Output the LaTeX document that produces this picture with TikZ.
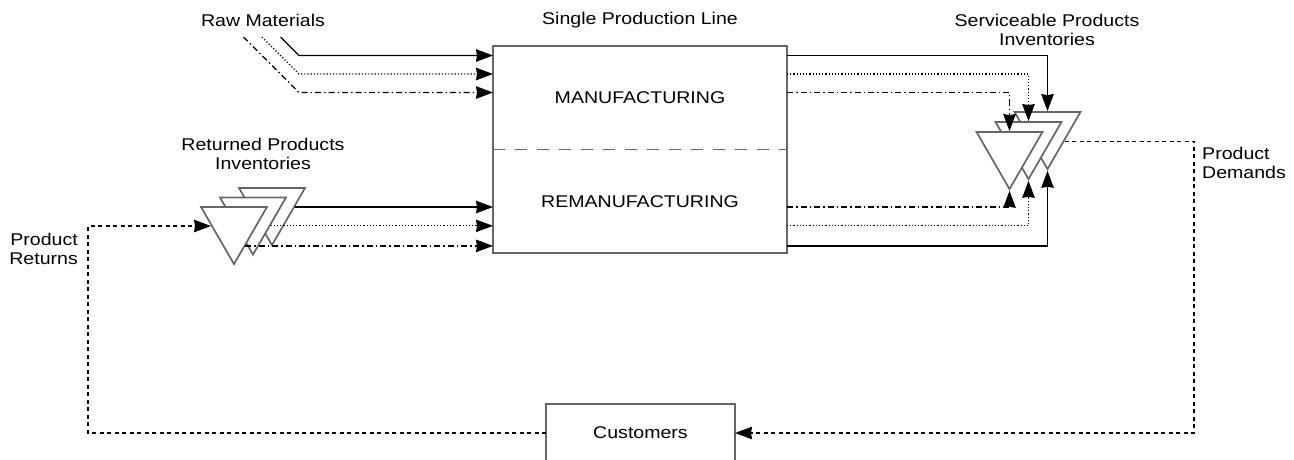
\documentclass[tikz,border=0pt]{standalone}
\usepackage{fontspec}
\setmainfont[FakeStretch=1.15]{Liberation Sans}
\usetikzlibrary{arrows.meta,shapes.geometric}
\definecolor{edgegray}{HTML}{666666}

\begin{document}
\begin{tikzpicture}[x=1pt,y=-1pt,
  lbl/.style={font=\fontsize{17}{19}\selectfont, align=center, inner sep=0pt},
  procbox/.style={draw=edgegray, line width=1.5pt, fill=white, outer sep=0pt},
  stock/.style={regular polygon, regular polygon sides=3, shape border rotate=180,
    minimum size=76.2pt, inner sep=0pt, draw=edgegray, fill=white, line width=1.7pt},
  flow/.style={line width=1.2pt, black, -{Stealth[length=17pt,width=12.5pt,inset=1pt]}},
  solidflow/.style={flow, solid},
  dotflow/.style={flow, dash pattern=on 1.2pt off 2pt},
  dashdotflow/.style={flow, dash pattern=on 6pt off 3pt on 1.5pt off 3pt},
  infoflow/.style={flow, dash pattern=on 4pt off 3.5pt},
  divider/.style={draw=edgegray, line width=1.5pt, dash pattern=on 12pt off 10pt}
]
\useasboundingbox (0,0) rectangle (1294,460);

% production line with its two processes
\node[procbox, minimum width=294pt, minimum height=207pt] (line) at (640,149.5) {};
\draw[divider] (line.west) -- (line.east);
\node[lbl] (mfg) at (640,98) {MANUFACTURING};
\node[lbl] (reman) at (640,202) {REMANUFACTURING};

% customers
\node[procbox, minimum width=189pt, minimum height=58pt] (cust) at (640.5,433) {};
\node[lbl] (custtxt) at (640.5,433) {Customers};

% returned products stock points (back to front)
\node[stock] (RT3) at (272,207) {};
\node[stock] (RT2) at (253,216.5) {};
\node[stock] (RT1) at (234,226) {};

% serviceable products stock points (back to front)
\node[stock] (ST3) at (1047.5,131) {};
\node[stock] (ST2) at (1028.5,141) {};
\node[stock] (ST1) at (1009.5,151) {};

% labels
\node[lbl] (rawlbl) at (263,20) {Raw Materials};
\node[lbl] (spl) at (640,20) {Single Production Line};
\node[lbl] (servlbl) at (1047,30) {Serviceable Products\\Inventories};
\node[lbl] (retlbl) at (263,153.5) {Returned Products\\Inventories};
\node[lbl, anchor=west, align=left] (demlbl) at (1202,162.5) {Product\\Demands};
\node[lbl, anchor=east, align=right] (rtnlbl) at (78,249) {Product\\Returns};

% ports on the manufacturing side
\coordinate (p1) at ([yshift=-9.5pt]line.north west);
\coordinate (p2) at ([yshift=-28pt]line.north west);
\coordinate (p3) at ([yshift=-46.5pt]line.north west);
\coordinate (kink) at (299,0);
\coordinate (raw1) at (280.5,37);
\coordinate (raw2) at (262,37);
\coordinate (raw3) at (243.5,37);

% raw materials into manufacturing
\draw[solidflow] (raw1) -- (p1 -| kink) -- (p1);
\draw[dotflow] (raw2) -- (p2 -| kink) -- (p2);
\draw[dashdotflow] (raw3) -- (p3 -| kink) -- (p3);

% manufacturing output to serviceable stock
\draw[solidflow] (p1 -| line.east) -| (ST3.90);
\draw[dotflow] (p2 -| line.east) -| (ST2.90);
\draw[dashdotflow] (p3 -| line.east) -| (ST1.90);

% returned stock into remanufacturing
\draw[solidflow] (RT3.0) -- (RT3.0 -| line.west);
\draw[dotflow] (RT2.-28) -- (RT2.-28 -| line.west);
\draw[dashdotflow] (RT1.-60) -- (RT1.-60 -| line.west);

% remanufacturing output to serviceable stock
\draw[dashdotflow] (RT3.0 -| line.east) -| (ST1.270);
\draw[dotflow] (RT2.-28 -| line.east) -| (ST2.270);
\draw[solidflow] (RT1.-60 -| line.east) -| (ST3.270);

% demand and return loops
\coordinate (pd) at (1194,0);
\coordinate (pr) at (88,0);
\draw[infoflow] (ST3.-31.7) -- (ST3.-31.7 -| pd) |- (cust.east);
\draw[infoflow] (cust.west) -- (cust.west -| pr) |- (RT1.180);
\end{tikzpicture}
\end{document}
